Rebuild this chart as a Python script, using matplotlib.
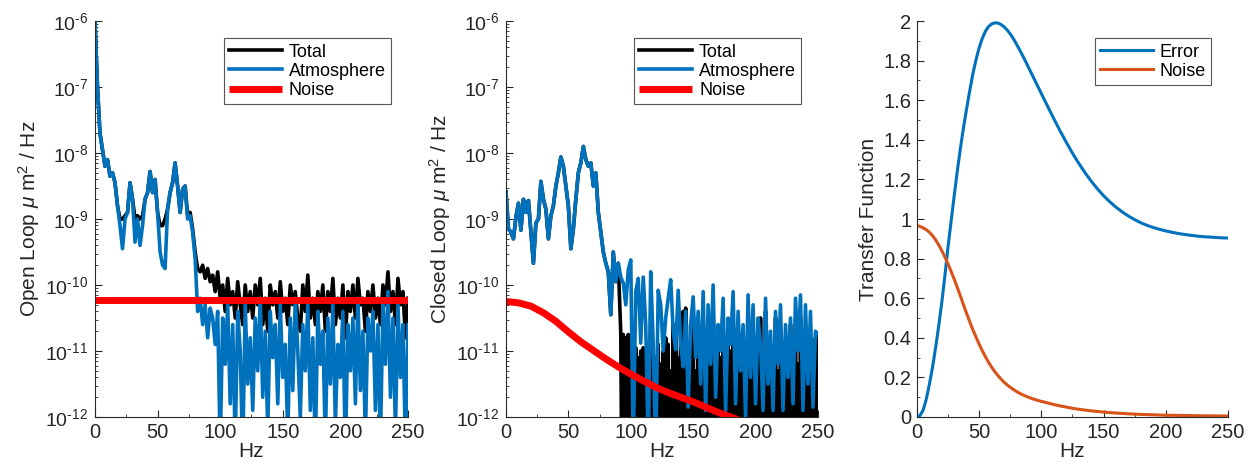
import numpy as np
import matplotlib
matplotlib.use("Agg")
import matplotlib.pyplot as plt
from matplotlib.ticker import MultipleLocator, FixedLocator, NullFormatter, FuncFormatter

plt.rcParams['font.family'] = ['Liberation Sans', 'DejaVu Sans']
plt.rcParams['mathtext.fontset'] = 'custom'
plt.rcParams['mathtext.rm'] = 'Liberation Sans'
plt.rcParams['mathtext.it'] = 'Liberation Sans:italic'
plt.rcParams['mathtext.default'] = 'regular'

# ---------------- data (log10 of PSD, 2 Hz grid 0..250) ----------------
freq = list(range(0, 251, 2))

ol_atm_log = [
    -6.0, -7.0, -7.7, -7.95, -8.2, -8.1, -8.35, -8.3, -8.45, -8.8,
    -9.1, -9.45, -9.0, -8.9, -8.45, -8.7, -9.35, -9.0, -9.4, -9.1,
    -8.7, -8.6, -8.28, -8.6, -8.4, -8.9, -9.5, -9.7, -9.75, -8.85,
    -8.6, -8.45, -8.15, -8.5, -8.9, -8.55, -8.5, -9.0, -8.95, -9.2,
    -9.6, -10.4, -10.2, -10.6, -10.3, -10.8, -10.35, -10.5, -10.9, -10.4,
    -12.5, -10.5, -11.2, -10.3, -11.8, -10.6, -12.4, -10.4, -11.0, -12.6,
    -10.3, -11.5, -10.8, -11.9, -10.5, -11.3, -10.2, -11.7, -10.7, -12.2,
    -10.4, -11.1, -10.6, -11.8, -10.3, -11.4, -10.9, -12.3, -10.5, -11.6,
    -10.2, -11.0, -12.0, -10.6, -11.3, -10.3, -11.9, -10.8, -12.5, -10.4,
    -11.2, -10.7, -12.4, -10.5, -11.5, -10.3, -12.1, -10.9, -11.4, -10.4,
    -12.6, -10.6, -11.3, -10.5, -11.8, -10.2, -11.6, -10.7, -12.3, -10.5,
    -11.0, -10.4, -11.9, -10.6, -12.4, -10.3, -11.2, -10.1, -11.7, -10.5,
    -12.2, -10.3, -11.4, -10.6, -12.5, -10.6]

ol_total_log = [
    -6.0, -7.0, -7.7, -7.95, -8.2, -8.1, -8.35, -8.3, -8.45, -8.8,
    -9.0, -9.0, -8.95, -8.9, -8.45, -8.7, -9.0, -8.95, -9.0, -8.95,
    -8.7, -8.6, -8.28, -8.6, -8.4, -8.9, -9.1, -9.1, -9.0, -8.85,
    -8.6, -8.45, -8.15, -8.5, -8.9, -8.55, -8.5, -8.95, -8.9, -9.15,
    -9.5, -9.75, -9.8, -9.7, -9.9, -9.75, -9.95, -9.85, -10.1, -9.8,
    -10.2, -10.0, -10.4, -9.9, -10.3, -10.1, -10.5, -9.95, -10.3, -10.6,
    -10.0, -10.4, -10.1, -10.5, -10.0, -10.3, -9.9, -10.6, -10.2, -10.7,
    -10.0, -10.3, -10.1, -10.5, -9.95, -10.4, -10.2, -10.6, -10.0, -10.3,
    -10.1, -10.5, -10.7, -10.0, -10.4, -9.85, -10.5, -10.2, -10.6, -10.1,
    -10.4, -10.0, -10.7, -10.1, -10.4, -9.9, -10.6, -10.2, -10.5, -10.0,
    -10.8, -10.1, -10.4, -10.0, -10.5, -9.9, -10.3, -10.2, -10.7, -10.1,
    -10.4, -10.0, -10.5, -10.2, -10.6, -10.0, -10.3, -9.8, -10.4, -10.1,
    -10.6, -9.9, -10.3, -10.1, -10.8, -10.2]

ol_noise_level = 5.9e-11

cl_atm_log = [
    -8.59, -9.15, -9.2, -9.3, -8.97, -8.76, -9.17, -8.7, -8.9, -8.72,
    -9.2, -9.67, -9.06, -9.0, -8.43, -8.7, -8.85, -9.3, -8.95, -8.8,
    -8.5, -8.3, -8.06, -8.2, -8.5, -8.8, -9.45, -9.15, -8.7, -8.3,
    -8.15, -7.9, -8.1, -8.2, -8.15, -8.5, -8.3, -8.9, -9.2, -9.5,
    -9.67, -9.8, -10.45, -9.5, -9.95, -9.67, -9.88, -9.97, -10.3, -9.77,
    -9.62, -12.5, -10.1, -9.9, -10.88, -9.88, -10.6, -12.5, -9.8, -10.9,
    -12.6, -10.08, -10.3, -11.0, -10.5, -10.2, -9.92, -10.7, -10.98, -10.08,
    -10.9, -11.24, -10.4, -11.85, -10.6, -10.18, -11.1, -10.4, -11.5, -10.1,
    -11.9, -10.3, -11.2, -10.0, -11.7, -10.6, -11.0, -10.2, -11.9, -10.5,
    -10.9, -10.1, -11.8, -10.4, -11.3, -10.6, -12.0, -10.15, -11.4, -10.3,
    -11.8, -10.5, -10.9, -11.9, -10.2, -11.5, -10.7, -11.9, -10.4, -11.2,
    -10.3, -11.9, -10.6, -11.4, -10.5, -11.8, -10.2, -11.0, -10.15, -11.9,
    -10.3, -11.5, -10.4, -11.85, -10.7, -10.75]

# closed-loop total: equal to atmosphere below 92 Hz, above it a fast
# oscillation between these peak values and values far below the axis
cl_total_low_log = cl_atm_log[:46]
cl_total_peak_freq = list(range(92, 251, 2))
cl_total_peak_log = [
    -10.73, -10.75, -10.8, -10.75, -10.9, -11.2, -10.95, -11.1, -11.0, -10.95,
    -11.3, -11.0, -10.9, -11.4, -11.1, -10.9, -11.2, -11.0, -10.8, -10.9,
    -11.3, -10.6, -10.8, -11.1, -10.5, -10.4, -10.35, -11.0, -10.6, -10.45,
    -11.3, -10.8, -11.0, -10.6, -11.5, -10.9, -11.2, -10.7, -11.4, -10.9,
    -11.1, -10.6, -11.6, -10.8, -11.0, -10.5, -11.3, -10.7, -11.1, -10.9,
    -11.6, -10.4, -11.2, -10.6, -11.5, -10.8, -10.5, -11.4, -10.4, -11.0,
    -10.9, -11.7, -10.5, -11.3, -10.7, -11.5, -10.9, -11.1, -10.6, -11.4,
    -10.8, -11.2, -10.5, -11.6, -10.7, -11.3, -10.9, -11.5, -10.8, -10.75]
cl_total_trough_log = -13.5

cl_noise_freq = list(range(0, 251, 10))
cl_noise_log = [
    -10.25, -10.27, -10.32, -10.42, -10.55, -10.71, -10.86, -10.99, -11.12,
    -11.24, -11.35, -11.45, -11.55, -11.63, -11.70, -11.77, -11.85, -11.93,
    -12.00, -12.07, -12.13, -12.19, -12.24, -12.29, -12.34, -12.39]

# transfer functions: 2.5 Hz grid to 100 Hz, then 5 Hz grid
tf_freq = [i * 2.5 for i in range(41)] + list(range(105, 251, 5))
tf_error = [
    0.0, 0.008, 0.035, 0.09, 0.165, 0.25, 0.35, 0.46, 0.58, 0.715,
    0.86, 0.99, 1.12, 1.245, 1.36, 1.465, 1.56, 1.65, 1.735, 1.805,
    1.865, 1.912, 1.948, 1.972, 1.985, 1.991, 1.99, 1.983, 1.971, 1.955,
    1.935, 1.911, 1.884, 1.855, 1.825, 1.794, 1.762, 1.730, 1.698, 1.666,
    1.634,
    1.570, 1.507, 1.446, 1.388, 1.333, 1.282, 1.235, 1.192, 1.153,
    1.118, 1.087, 1.060, 1.036, 1.015, 0.997, 0.981, 0.968, 0.957, 0.948,
    0.940, 0.933, 0.927, 0.922, 0.918, 0.914, 0.911, 0.909, 0.907, 0.905,
    0.904]
tf_noise = [
    0.967, 0.963, 0.955, 0.946, 0.933, 0.916, 0.895, 0.869, 0.84, 0.808,
    0.773, 0.735, 0.695, 0.653, 0.61, 0.565, 0.522, 0.48, 0.44, 0.403,
    0.368, 0.335, 0.305, 0.277, 0.252, 0.23, 0.21, 0.192, 0.176, 0.162,
    0.150, 0.139, 0.129, 0.120, 0.112, 0.105, 0.099, 0.093, 0.088, 0.083,
    0.079,
    0.071, 0.063, 0.056, 0.050, 0.044, 0.039, 0.035, 0.031, 0.028,
    0.025, 0.022, 0.020, 0.018, 0.016, 0.0145, 0.013, 0.012, 0.011, 0.010,
    0.009, 0.0085, 0.008, 0.0075, 0.007, 0.0065, 0.006, 0.0058, 0.0055,
    0.0052, 0.005]

log_major_ticks = [1e-12, 1e-11, 1e-10, 1e-9, 1e-8, 1e-7, 1e-6]

# ---------------- styling ----------------
C_BLUE = '#0072BD'
C_ORANGE = '#D95319'
C_RED = '#FF0000'
AX_COL = '#262626'
FS_TICK = 14.5
FS_LOGTICK = 14
FS_LAB = 15
FS_LEG = 13

fig = plt.figure(figsize=(12.53, 4.68), dpi=100)
ax1 = fig.add_axes([0.0758, 0.109, 0.2498, 0.846])
ax2 = fig.add_axes([0.4038, 0.109, 0.2490, 0.846])
ax3 = fig.add_axes([0.7318, 0.109, 0.2482, 0.846])


def style(ax):
    for s in ('top', 'right'):
        ax.spines[s].set_visible(False)
    for s in ('left', 'bottom'):
        ax.spines[s].set_color(AX_COL)
        ax.spines[s].set_linewidth(0.8)
    ax.tick_params(which='both', direction='in', colors=AX_COL,
                   labelsize=FS_TICK, labelcolor=AX_COL)
    ax.tick_params(which='major', length=5, pad=4)
    ax.tick_params(which='minor', length=2.5)
    ax.set_xlim(0, 250)
    ax.xaxis.set_major_locator(MultipleLocator(50))
    ax.xaxis.set_minor_locator(MultipleLocator(25))
    ax.set_xlabel('Hz', fontsize=FS_LAB, color=AX_COL, labelpad=0)


def log_label(v, p):
    e = int(round(np.log10(v)))
    return r'$10^{\text{%d}}$' % e


def log_axis(ax):
    ax.set_yscale('log')
    ax.set_ylim(1e-12, 1e-6)
    ax.yaxis.set_major_locator(FixedLocator(log_major_ticks))
    minors = [m * 10.0 ** e for e in range(-12, -6) for m in range(2, 10)]
    ax.yaxis.set_minor_locator(FixedLocator(minors))
    ax.yaxis.set_minor_formatter(NullFormatter())
    ax.yaxis.set_major_formatter(FuncFormatter(log_label))
    ax.tick_params(axis='y', which='major', labelsize=FS_LOGTICK, pad=5)


def legend(ax, bbox):
    leg = ax.legend(loc='upper right', bbox_to_anchor=bbox, fontsize=FS_LEG,
                    frameon=True, fancybox=False, framealpha=1,
                    edgecolor='#555555', handlelength=2.9, handletextpad=0.4,
                    borderpad=0.3, labelspacing=0.12, borderaxespad=0)
    leg.get_frame().set_linewidth(0.8)
    for t in leg.get_texts():
        t.set_color('black')
    return leg


# ---- panel 1: open loop ----
f = np.array(freq, dtype=float)
ax1.plot(f, 10 ** np.array(ol_total_log), color='black', lw=2.6, label='Total')
ax1.plot(f, 10 ** np.array(ol_atm_log), color=C_BLUE, lw=2.6, label='Atmosphere')
ax1.plot(f, np.full(len(f), ol_noise_level), color=C_RED, lw=5, label='Noise',
         solid_capstyle='butt')
style(ax1)
log_axis(ax1)
ax1.set_ylabel(r'Open Loop $\mathit{\mu}$ m$^{2}$ / Hz', fontsize=FS_LAB,
               color=AX_COL, labelpad=2)
legend(ax1, (0.947, 0.957))

# ---- panel 2: closed loop ----
tx = list(freq[:46])
ty = list(cl_total_low_log)
for pf, pv in zip(cl_total_peak_freq, cl_total_peak_log):
    tx.append(pf)
    ty.append(pv)
    if pf < 250:
        tx.append(pf + 1)
        ty.append(cl_total_trough_log)
ax2.plot(tx, 10 ** np.array(ty), color='black', lw=2.6, label='Total')
ax2.plot(f, 10 ** np.array(cl_atm_log), color=C_BLUE, lw=2.6, label='Atmosphere')
ax2.plot(cl_noise_freq, 10 ** np.array(cl_noise_log), color=C_RED, lw=5,
         label='Noise', solid_capstyle='butt')
style(ax2)
log_axis(ax2)
ax2.set_ylabel(r'Closed Loop $\mathit{\mu}$ m$^{2}$ / Hz', fontsize=FS_LAB,
               color=AX_COL, labelpad=2)
legend(ax2, (0.947, 0.957))

# ---- panel 3: transfer functions ----
ax3.plot(tf_freq, tf_error, color=C_BLUE, lw=2.2, label='Error')
ax3.plot(tf_freq, tf_noise, color=C_ORANGE, lw=2.2, label='Noise')
style(ax3)
ax3.set_ylim(0, 2)
ax3.yaxis.set_major_locator(MultipleLocator(0.2))
ax3.yaxis.set_minor_locator(MultipleLocator(0.1))
ax3.yaxis.set_major_formatter(FuncFormatter(lambda v, p: '%g' % round(v, 1)))
ax3.set_ylabel('Transfer Function', fontsize=FS_LAB, color=AX_COL, labelpad=4)
legend(ax3, (0.947, 0.957))

fig.savefig('out.png', dpi=100)
